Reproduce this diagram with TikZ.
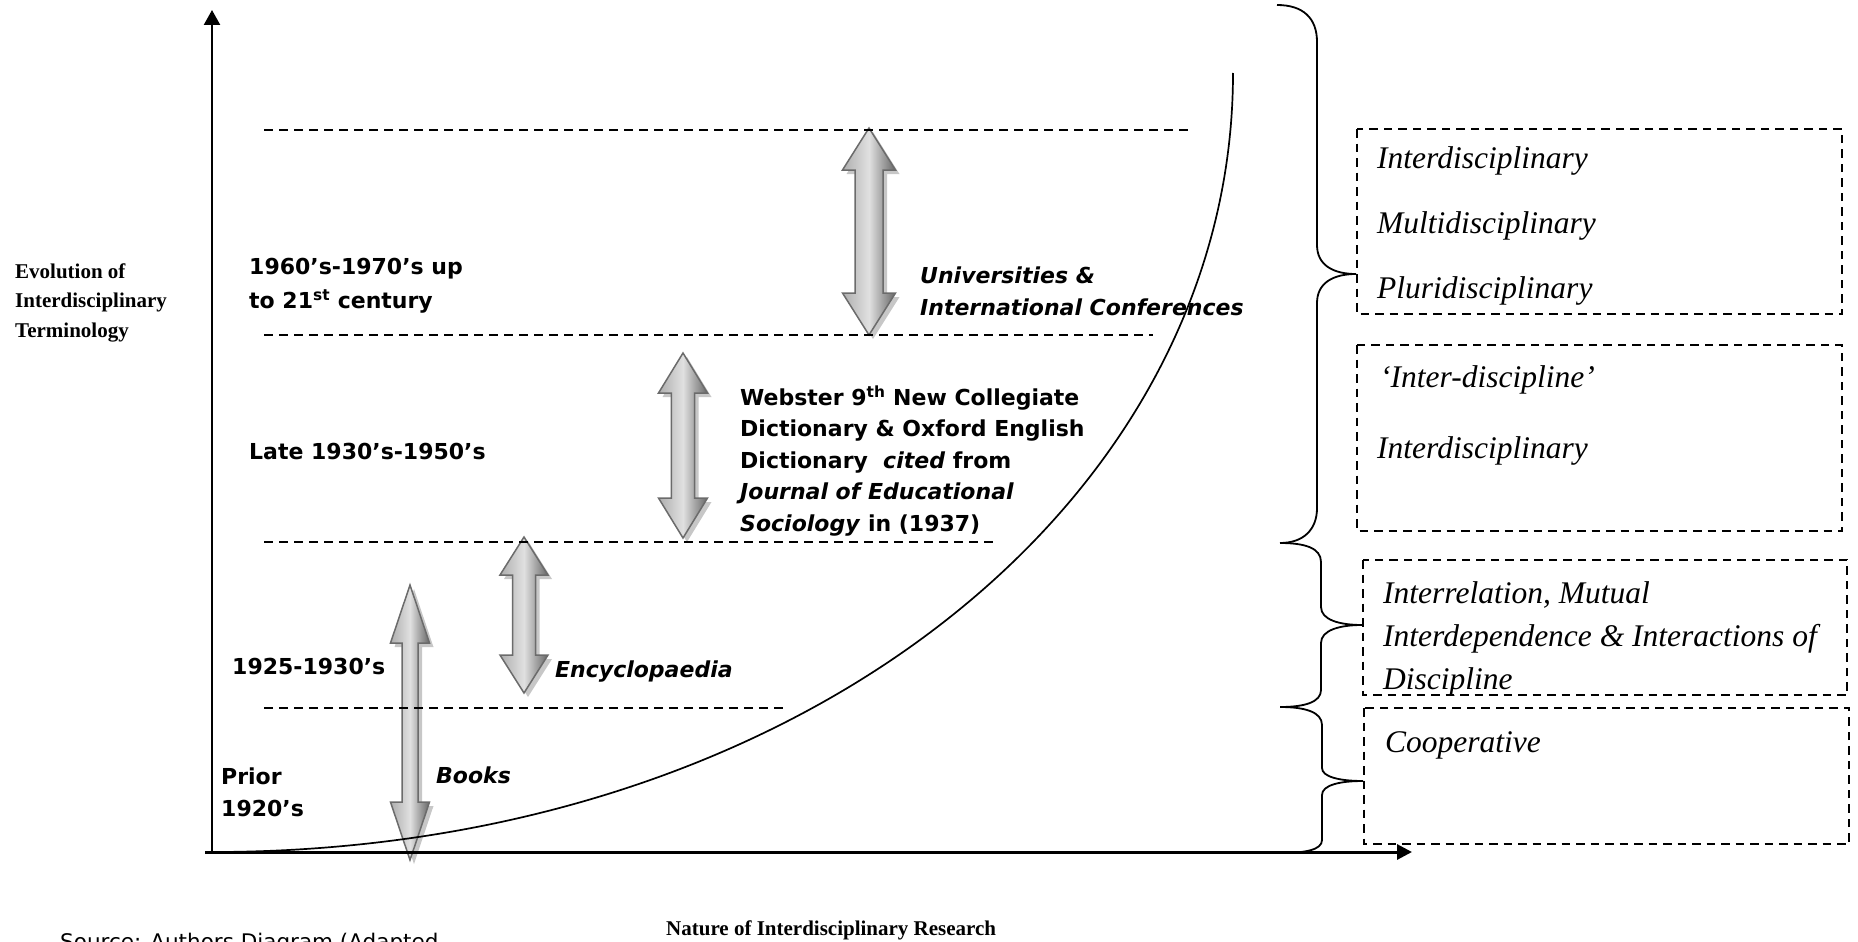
\documentclass[tikz,border=0pt]{standalone}
\usepackage{fontspec}
\setmainfont{Liberation Serif}
\newfontfamily\dvs{DejaVu Sans}[BoldFont={DejaVu Sans Bold},ItalicFont={DejaVu Sans Oblique},BoldItalicFont={DejaVu Sans Bold Oblique}]
\usetikzlibrary{arrows.meta,calc}
\tikzset{
  sanslab/.style={font=\dvs\bfseries\fontsize{22}{31.5}\selectfont, inner sep=0pt, anchor=base west},
  sansit/.style={font=\dvs\bfseries\itshape\fontsize{22}{31.5}\selectfont, inner sep=0pt, anchor=base west},
  serifbold/.style={font=\bfseries\fontsize{21}{30}\selectfont, inner sep=0pt, anchor=base west},
  boxtext/.style={font=\itshape\fontsize{31.5}{40}\selectfont, inner sep=0pt, anchor=base west},
  srcstyle/.style={font=\dvs\fontsize{21.5}{30}\selectfont, inner sep=0pt, anchor=base west},
  level/.style={line width=2.6pt, dash pattern=on 9pt off 6pt},
  dbox/.style={line width=2.4pt, dash pattern=on 8.5pt off 6pt},
  yaxis/.style={line width=2.3pt, -{Triangle[length=15pt,width=16pt]}},
  xaxis/.style={line width=3pt, -{Triangle[length=15pt,width=15pt]}},
  curvestyle/.style={line width=1.7pt},
  bracestyle/.style={line width=1.8pt},
  gshadow/.style={fill=black!22},
  gbody/.style={draw=black!58, line width=1.5pt, left color=black!32, right color=black!60, middle color=black!12},
}
\newcommand\gashape[7]{%
  \path[#7] ({#1},{#2}) -- ({#1+#4},{#2+#6}) -- ({#1+#5},{#2+#6}) -- ({#1+#5},{#3-#6}) -- ({#1+#4},{#3-#6}) -- ({#1},{#3}) -- ({#1-#4},{#3-#6}) -- ({#1-#5},{#3-#6}) -- ({#1-#5},{#2+#6}) -- ({#1-#4},{#2+#6}) -- cycle;}
\newcommand\garrow[6]{\gashape{#1+4}{#2+4}{#3+4}{#4}{#5}{#6}{gshadow}\gashape{#1}{#2}{#3}{#4}{#5}{#6}{gbody}}
\begin{document}
\begin{tikzpicture}[x=1pt,y=-1pt]
\useasboundingbox (0,0) rectangle (1858,942);
\clip (0,0) rectangle (1858,942);

% grey double arrows
\garrow{869}{128}{335}{26.5}{14}{42}
\garrow{683}{353}{538}{24.5}{11.7}{40}
\garrow{524}{537}{693}{24}{11.5}{38}
\garrow{410}{585}{860}{19.5}{8}{58}

% level lines
\draw[level] (264,130) -- (1188,130);
\draw[level] (264,335) -- (1153,335);
\draw[level] (264,542) -- (993,542);
\draw[level] (264,708) -- (788,708);

% growth curve
\coordinate (O) at (212,852);
\coordinate (ctop) at (1233,73);
\draw[curvestyle] (O) .. controls (800,852) and (1233,500) .. (ctop);

% axes
\coordinate (ytip) at (212,10);
\coordinate (xstart) at (205,852);
\coordinate (xtip) at (1412,852);
\draw[yaxis] (O) -- (ytip);
\draw[xaxis] (xstart) -- (xtip);

% braces
\draw[bracestyle] (1277,5) .. controls (1303,5) and (1317,18) .. (1317,42) -- (1317,245) .. controls (1317,265) and (1333,274) .. (1356,274) .. controls (1333,274) and (1317,283) .. (1317,303) -- (1317,508) .. controls (1317,530) and (1303,543) .. (1280,543);
\draw[bracestyle] (1280,543) .. controls (1305,543) and (1321,548) .. (1321,562) -- (1321,607) .. controls (1321,620) and (1340,625) .. (1362,625) .. controls (1340,625) and (1321,630) .. (1321,643) -- (1321,690) .. controls (1321,702) and (1305,707) .. (1280,707);
\draw[bracestyle] (1280,707) .. controls (1305,707) and (1322,712) .. (1322,725) -- (1322,768) .. controls (1322,777) and (1340,781) .. (1363,781) .. controls (1340,781) and (1322,785) .. (1322,795) -- (1322,840) .. controls (1322,850) and (1305,853) .. (1280,853);

% dashed boxes
\draw[dbox] (1357,129) rectangle (1842,314);
\draw[dbox] (1357,345) rectangle (1842,531);
\draw[dbox] (1363,560) rectangle (1847,695);
\draw[dbox] (1364,708) rectangle (1849,844);

% box texts
\node[boxtext] (b1a) at (1377,168) {Interdisciplinary};
\node[boxtext] (b1b) at (1377,233) {Multidisciplinary};
\node[boxtext] (b1c) at (1377,298) {Pluridisciplinary};
\node[boxtext] (b2a) at (1380,387) {‘Inter-discipline’};
\node[boxtext] (b2b) at (1377,458) {Interdisciplinary};
\node[boxtext] (b3a) at (1383,603) {Interrelation, Mutual};
\node[boxtext] (b3b) at (1383,646) {Interdependence \& Interactions of};
\node[boxtext] (b3c) at (1383,689) {Discipline};
\node[boxtext] (b4a) at (1385,752) {Cooperative};

% period labels
\node[sanslab] (p1a) at (249,274) {1960’s-1970’s up};
\node[sanslab] (p1b) at (249,308) {to 21\textsuperscript{st} century};
\node[sanslab] (p2) at (249,459) {Late 1930’s-1950’s};
\node[sanslab] (p3) at (232,674) {1925-1930’s};
\node[sanslab] (p4a) at (221,784) {Prior};
\node[sanslab] (p4b) at (221,816) {1920’s};

% source labels
\node[sansit] (s1a) at (920,283) {Universities \&};
\node[sansit] (s1b) at (920,315) {International Conferences};
\node[sanslab] (s2a) at (740,405) {Webster 9\textsuperscript{th} New Collegiate};
\node[sanslab] (s2b) at (740,436.5) {Dictionary \& Oxford English};
\node[sanslab] (s2c) at (740,468) {Dictionary \ \textit{cited} from};
\node[sansit] (s2d) at (740,499.5) {Journal of Educational};
\node[sanslab] (s2e) at (740,531) {\textit{Sociology} in (1937)};
\node[sansit] (s3) at (555,677) {Encyclopaedia};
\node[sansit] (s4) at (436,783) {Books};

% axis titles
\node[serifbold] (ya) at (15,278) {Evolution of};
\node[serifbold] (yb) at (15,307.5) {Interdisciplinary};
\node[serifbold] (yc) at (15,337) {Terminology};
\node[serifbold] (xt) at (666,935) {Nature of Interdisciplinary Research};
\node[srcstyle] (src) at (60,949) {Source: Authors Diagram (Adapted};
\end{tikzpicture}
\end{document}
